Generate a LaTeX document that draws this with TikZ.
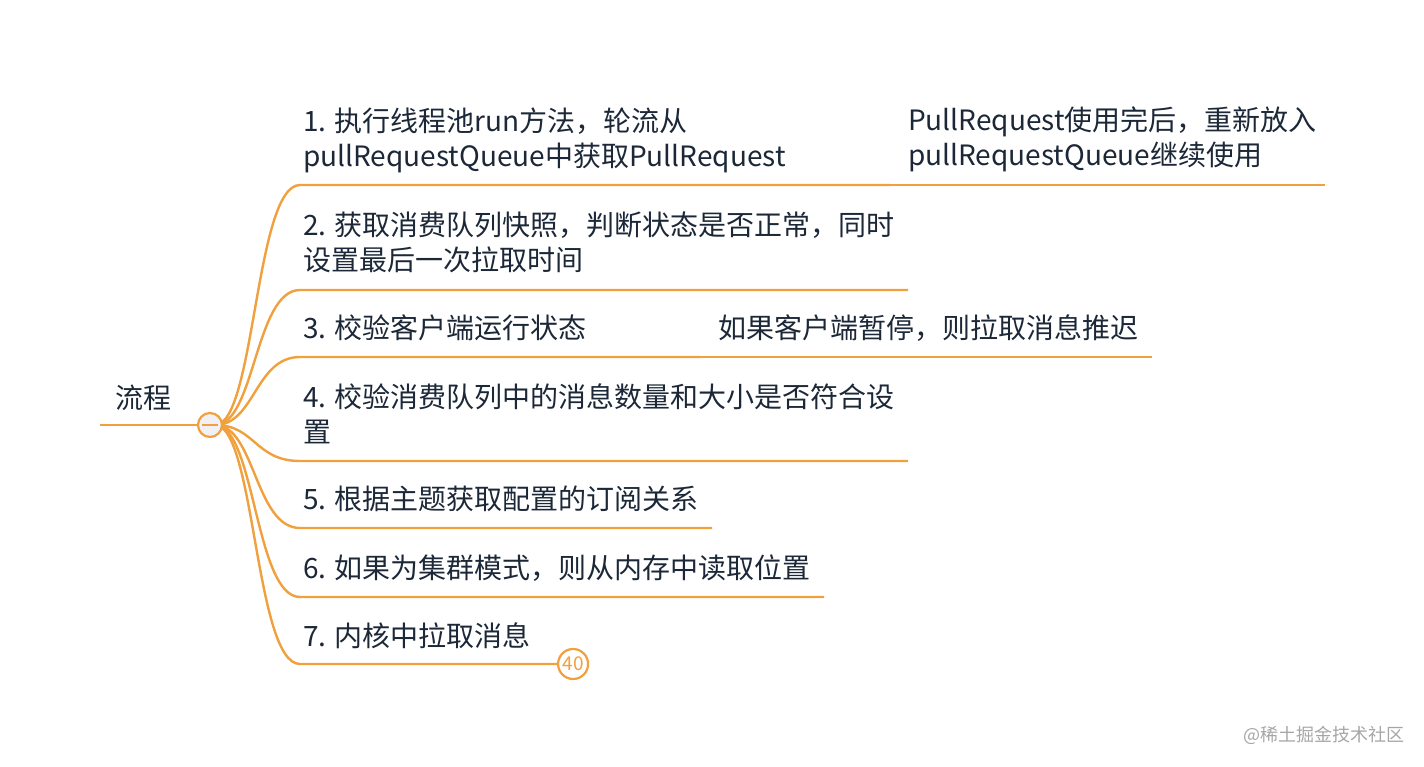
\documentclass[tikz,border=0pt]{standalone}
\usepackage{fontspec}
\setmainfont{Noto Sans CJK SC}
\usetikzlibrary{positioning}
\definecolor{branch}{RGB}{240,160,60}
\definecolor{ink}{RGB}{28,40,56}
\definecolor{foldfill}{RGB}{240,240,245}

\begin{document}
\begin{tikzpicture}[
  x=1pt, y=-1pt,
  every node/.style={font=\fontsize{28}{35}\selectfont, text=ink, inner sep=0pt},
  topic/.style={anchor=base west, align=left},
  branchline/.style={draw=branch, line width=2.4pt},
  fold/.style={circle, draw=branch, line width=2.2pt, fill=foldfill, minimum size=24pt},
  count/.style={circle, draw=branch, line width=2.2pt, fill=white, minimum size=30pt,
    text=branch, font=\fontsize{19}{19}\selectfont}
  ]

\useasboundingbox (0,0) rectangle (1424,766);

% root
\node[topic] (root) at (115,408) {流程};
\coordinate (rootstart) at (100,425);
\coordinate (hub) at (215,425);

% children (base = last line)
\node[topic] (step1) at (303,166) {1. 执行线程池run方法，轮流从\\pullRequestQueue中获取PullRequest};
\node[topic] (step2) at (303,270) {2. 获取消费队列快照，判断状态是否正常，同时\\设置最后一次拉取时间};
\node[topic] (step3) at (303,338) {3. 校验客户端运行状态};
\node[topic] (step4) at (303,442) {4. 校验消费队列中的消息数量和大小是否符合设\\置};
\node[topic] (step5) at (303,509) {5. 根据主题获取配置的订阅关系};
\node[topic] (step6) at (303,578) {6. 如果为集群模式，则从内存中读取位置};
\node[topic] (step7) at (303,646) {7. 内核中拉取消息};

% sub topics
\node[topic] (reuse) at (908,165) {PullRequest使用完后，重新放入\\pullRequestQueue继续使用};
\node[topic] (delay) at (718,338) {如果客户端暂停，则拉取消息推迟};

% underline ends
\coordinate (end1) at (890,185);
\coordinate (end2) at (908,290);
\coordinate (end3) at (700,357);
\coordinate (end4) at (908,461);
\coordinate (end5) at (712,528);
\coordinate (end6) at (824,597);
\coordinate (end7) at (557,664);
\coordinate (reuseend) at (1325,185);
\coordinate (delayend) at (1152,357);

% connectors
\draw[branchline] (rootstart) -- (hub);
\foreach \i in {1,...,7}
  \draw[branchline] (hub) .. controls (255,425) and (255,0 |- end\i) .. (300,0 |- end\i) -- (end\i);
\draw[branchline] (end1) -- (reuseend);
\draw[branchline] (end3) -- (delayend);

% fold markers
\node[fold] (hubfold) at (210,425) {};
\draw[branch, line width=2pt] ([xshift=-8pt]hubfold.center) -- ([xshift=8pt]hubfold.center);
\node[count, right=0pt of end7] (more) {40};

% watermark
\node[anchor=east, text=gray!70, font=\fontsize{18}{18}\selectfont] (mark) at (1405,735) {@稀土掘金技术社区};

\end{tikzpicture}
\end{document}
